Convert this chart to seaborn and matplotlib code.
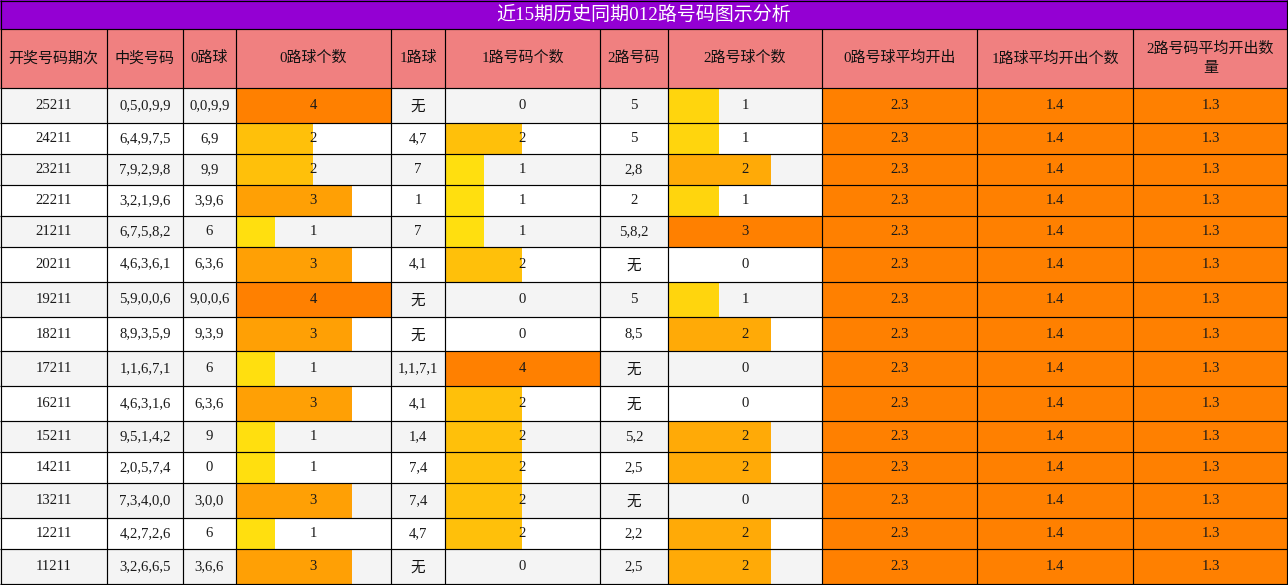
import numpy as np
import pandas as pd
import matplotlib
matplotlib.use("Agg")
import matplotlib.pyplot as plt
import seaborn as sns

# ---------------- data ----------------
title = "近15期历史同期012路号码图示分析"
headers = ["开奖号码期次", "中奖号码", "0路球", "0路球个数", "1路球", "1路号码个数",
           "2路号码", "2路号球个数", "0路号球平均开出", "1路球平均开出个数", "2路号码平均开出数\n量"]
periods = ["25211", "24211", "23211", "22211", "21211", "20211", "19211", "18211",
           "17211", "16211", "15211", "14211", "13211", "12211", "11211"]
draws = ["0,5,0,9,9", "6,4,9,7,5", "7,9,2,9,8", "3,2,1,9,6", "6,7,5,8,2", "4,6,3,6,1",
         "5,9,0,0,6", "8,9,3,5,9", "1,1,6,7,1", "4,6,3,1,6", "9,5,1,4,2", "2,0,5,7,4",
         "7,3,4,0,0", "4,2,7,2,6", "3,2,6,6,5"]
road0 = ["0,0,9,9", "6,9", "9,9", "3,9,6", "6", "6,3,6", "9,0,0,6", "9,3,9", "6", "6,3,6",
         "9", "0", "3,0,0", "6", "3,6,6"]
count0 = [4, 2, 2, 3, 1, 3, 4, 3, 1, 3, 1, 1, 3, 1, 3]
road1 = ["无", "4,7", "7", "1", "7", "4,1", "无", "无", "1,1,7,1", "4,1", "1,4", "7,4",
         "7,4", "4,7", "无"]
count1 = [0, 2, 1, 1, 1, 2, 0, 0, 4, 2, 2, 2, 2, 2, 0]
road2 = ["5", "5", "2,8", "2", "5,8,2", "无", "5", "8,5", "无", "无", "5,2", "2,5", "无",
         "2,2", "2,5"]
count2 = [1, 1, 2, 1, 3, 0, 1, 2, 0, 0, 2, 2, 0, 2, 2]
avg0 = [2.3] * 15
avg1 = [1.4] * 15
avg2 = [1.3] * 15

# ---------------- layout ----------------
sns.set_theme(style="white")
plt.rcParams['font.family'] = ['Liberation Serif', 'Noto Sans CJK SC', 'DejaVu Sans']
FAM = ['Liberation Serif', 'Noto Sans CJK SC', 'DejaVu Sans']

W, H = 1288, 585
col_w = [107, 76, 53, 155, 54, 155, 68, 154, 155, 156, 155]
col_x = np.concatenate([[0], np.cumsum(col_w)])
title_h = 28.5
head_top, head_bot = 28.5, 88
row_h = [35 if "无" in (r1, r2) else 31 for r1, r2 in zip(road1, road2)]
row_y = head_bot + np.concatenate([[0], np.cumsum(row_h)])
scale = (H - 1 - head_bot) / (row_y[-1] - head_bot)
row_y = head_bot + (row_y - head_bot) * scale

fig = plt.figure(figsize=(W / 100, H / 100), dpi=100)
ax = fig.add_axes([0, 0, 1, 1])
ax.set_xlim(0, W)
ax.set_ylim(H, 0)
ax.axis("off")


def grad(f):
    return (1.0, (255 - 127 * f) / 255, (20 * (1 - f)) / 255)


# title
ax.barh(title_h / 2, W, height=title_h, left=0, color="#9400D3", edgecolor="none")
ax.text(W / 2, title_h / 2 + 1, title, color="white", fontsize=13.7, ha="center", va="center",
        family=FAM)
# header
ax.barh((head_top + head_bot) / 2, W, height=head_bot - head_top, left=0,
        color="#F08080", edgecolor="none")
for i, h in enumerate(headers):
    ax.text((col_x[i] + col_x[i + 1]) / 2, (head_top + head_bot) / 2, h, fontsize=10.8,
            ha="center", va="center", family=FAM, linespacing=1.55, color="#111111")

# rows
df = pd.DataFrame({"p": periods, "d": draws, "r0": road0, "c0": count0, "r1": road1,
                   "c1": count1, "r2": road2, "c2": count2, "a0": avg0, "a1": avg1, "a2": avg2})
bar_cols = {3: "c0", 5: "c1", 7: "c2", 8: "a0", 9: "a1", 10: "a2"}
maxes = {k: df[k].max() for k in bar_cols.values()}
keys = ["p", "d", "r0", "c0", "r1", "c1", "r2", "c2", "a0", "a1", "a2"]
for r in range(len(df)):
    y0, y1 = row_y[r], row_y[r + 1]
    yc = (y0 + y1) / 2
    ax.barh(yc, W, height=y1 - y0, left=0,
            color="#F4F4F4" if r % 2 == 0 else "white", edgecolor="none")
    for ci, k in enumerate(keys):
        val = df.loc[r, k]
        if ci in bar_cols:
            f = val / maxes[k]
            if f > 0:
                ax.barh(yc, f * col_w[ci], height=y1 - y0, left=col_x[ci],
                        color=grad(f), edgecolor="none")
        txt = str(val)
        cx = (col_x[ci] + col_x[ci + 1]) / 2
        if txt == "无":
            ax.text(cx, yc + 1.5, txt, fontsize=10.5, ha="center", va="center", family=FAM,
                    color="#111111")
        else:
            ax.text(cx, yc, txt, fontsize=10.6, ha="center", va="center", family=FAM,
                    color="#1a1a1a")

# grid lines
lw = 0.85
ax.hlines([0.8, title_h, head_bot] + list(row_y[1:-1]) + [H - 1], 0, W, color="black", lw=lw)
ax.vlines(list(col_x[1:-1]), head_top, H, color="black", lw=lw)
ax.vlines([0.8, W - 1], 0, H, color="black", lw=lw)

fig.savefig("out.png", dpi=100)
